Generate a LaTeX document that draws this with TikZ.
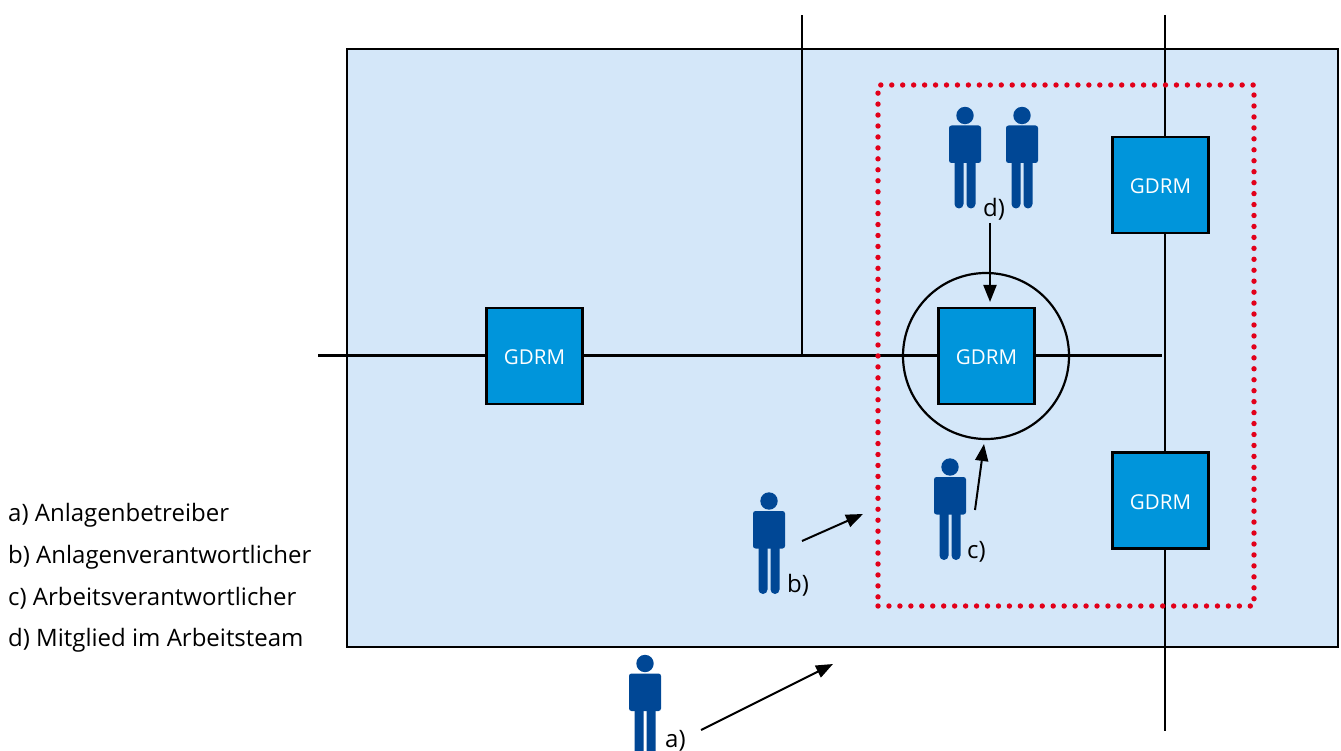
\documentclass[tikz,border=0pt]{standalone}
\usepackage{fontspec}
\setmainfont{Open Sans}
\usetikzlibrary{positioning,arrows.meta}
\definecolor{hallblue}{HTML}{D4E7F9}
\definecolor{boxblue}{HTML}{0095DB}
\definecolor{manblue}{HTML}{004795}
\definecolor{dotred}{HTML}{E2001A}
\tikzset{
    gdrm/.style={draw=black,line width=2.2pt,fill=boxblue,text=white,minimum size=96pt,inner sep=0pt,
        text height=17.6pt,text depth=0pt,font=\fontsize{20.5}{20.5}\selectfont},
    cable/.style={line width=2.2pt},
    pointer/.style={-{Triangle[length=17pt,width=13pt]},line width=2pt},
    tag/.style={inner sep=0pt,anchor=base west,font=\fontsize{24}{24}\selectfont},
    person/.pic={
        \fill[manblue] (0,0) circle (8.7);
        \fill[manblue,rounded corners=2.5pt] (-16,10) rectangle (16,47.5);
        \fill[manblue,rounded corners=4.5pt] (-10.5,40) rectangle (-1.5,93);
        \fill[manblue,rounded corners=4.5pt] (1.5,40) rectangle (10.5,93);
    }
}
\begin{document}
\begin{tikzpicture}[x=1pt,y=-1pt]
    \useasboundingbox (0,0) rectangle (1341,751);
    \draw[fill=hallblue,line width=1.4pt] (347,49) rectangle (1338,647);

    \coordinate (busin)  at (318,355.5);
    \coordinate (tee)    at (802,355.5);
    \coordinate (teeup)  at (802,15);
    \coordinate (busend) at (1162,355.5);
    \coordinate (feedup) at (1165,15);
    \coordinate (feeddn) at (1165,731);

    \draw[cable] (busin) -- (busend);
    \draw[cable] (tee) -- (teeup);
    \draw[cable] (feedup) -- (feeddn);

    \node[gdrm]           (gdrm1) at (534.5,356) {GDRM};
    \node[gdrm]           (gdrm2) at (986.5,356) {GDRM};
    \node[gdrm]           (gdrm3) at (1160.5,185) {GDRM};
    \node[gdrm]           (gdrm4) at (1160.5,500.5) {GDRM};

    \node[circle,draw,line width=2.2pt,minimum size=166pt,inner sep=0pt] (ring) at (986,356) {};
    \node[draw=dotred,line width=5.4pt,line cap=round,dash pattern=on 0pt off 10.95pt,
          minimum width=376pt,minimum height=521pt,inner sep=0pt] (zone) at (1066,345.5) {};

    \pic at (965,115.5) {person};
    \pic at (1022,115.5) {person};
    \pic at (950,467) {person};
    \pic at (769,501) {person};
    \pic at (645,663.5) {person};

    \node[tag] (labd) at (983,217) {d)};
    \node[tag] (labc) at (967,558) {c)};
    \node[tag] (labb) at (787,592) {b)};
    \node[tag] (laba) at (665,747.5) {a)};

    \coordinate (dfrom) at (990,223);
    \coordinate (dto)   at (990,302);
    \coordinate (cfrom) at (975,510);
    \coordinate (cto)   at (984,444);
    \coordinate (bfrom) at (802,541);
    \coordinate (bto)   at (863,514);
    \coordinate (afrom) at (701,730);
    \coordinate (ato)   at (833,664);
    \draw[pointer] (dfrom) -- (dto);
    \draw[pointer] (cfrom) -- (cto);
    \draw[pointer] (bfrom) -- (bto);
    \draw[pointer] (afrom) -- (ato);

    \node[tag] (lega) at (8,521) {a) Anlagenbetreiber};
    \node[tag] (legb) at (8,563) {b) Anlagenverantwortlicher};
    \node[tag] (legc) at (8,605) {c) Arbeitsverantwortlicher};
    \node[tag] (legd) at (8,646) {d) Mitglied im Arbeitsteam};
\end{tikzpicture}
\end{document}
